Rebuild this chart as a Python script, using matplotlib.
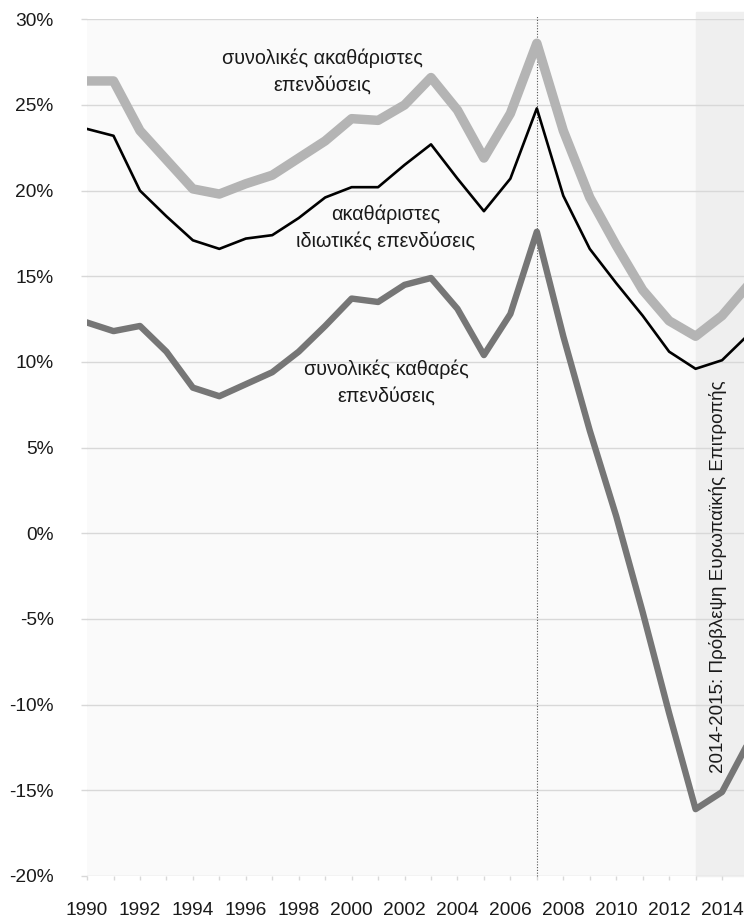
import numpy as np
import matplotlib.pyplot as plt
from matplotlib.ticker import FixedLocator, FuncFormatter

plt.rcParams['font.family'] = ['Liberation Sans', 'DejaVu Sans']

years = list(range(1990, 2016))

# συνολικές ακαθάριστες επενδύσεις (% ΑΕΠ)
gross_total = [26.4, 26.4, 23.5, 21.8, 20.1, 19.8, 20.4, 20.9, 21.9, 22.9,
               24.2, 24.1, 25.0, 26.6, 24.7, 21.9, 24.5, 28.6, 23.5, 19.6,
               16.8, 14.2, 12.4, 11.5, 12.7, 14.5]
# ακαθάριστες ιδιωτικές επενδύσεις
gross_private = [23.6, 23.2, 20.0, 18.5, 17.1, 16.6, 17.2, 17.4, 18.4, 19.6,
                 20.2, 20.2, 21.5, 22.7, 20.7, 18.8, 20.7, 24.8, 19.7, 16.6,
                 14.6, 12.7, 10.6, 9.6, 10.1, 11.6]
# συνολικές καθαρές επενδύσεις
net_total = [12.3, 11.8, 12.1, 10.6, 8.5, 8.0, 8.7, 9.4, 10.6, 12.1,
             13.7, 13.5, 14.5, 14.9, 13.1, 10.4, 12.8, 17.6, 11.5, 6.0,
             1.0, -4.6, -10.5, -16.1, -15.1, -12.2]

yticks = [-20, -15, -10, -5, 0, 5, 10, 15, 20, 25, 30]

fig = plt.figure(figsize=(7.44, 9.18), dpi=100)
ax = fig.add_axes([0.117, 0.0458, 0.883, 0.9332])
ax.set_facecolor('#fafafa')

span = ax.axvspan(2013, 2016, ymin=0, ymax=1.009, color='#efefef', zorder=0)
span.set_clip_on(False)
for y in yticks:
    ax.axhline(y, color='#d8d8d8', lw=1.0, zorder=1)
ax.axvline(2007, ymin=0, ymax=1.005, color='#555555', lw=0.8, ls=(0, (1, 1.5)),
           clip_on=False, zorder=2)

ax.plot(years, gross_total, color='#b4b4b4', lw=6.8, zorder=3)
ax.plot(years, gross_private, color='#000000', lw=1.9, zorder=4)
ax.plot(years, net_total, color='#767676', lw=4.6, zorder=3)

ax.set_xlim(1990, 2014.83)
ax.set_ylim(-20, 30)

ax.xaxis.set_major_locator(FixedLocator(years))
ax.xaxis.set_major_formatter(FuncFormatter(lambda v, p: str(int(v)) if int(v) % 2 == 0 else ''))
ax.yaxis.set_major_locator(FixedLocator(yticks))
ax.yaxis.set_major_formatter(FuncFormatter(lambda v, p: '%d%%' % v))
ax.tick_params(axis='x', length=3, width=1, color='#d8d8d8', pad=16, labelsize=13.8,
               labelcolor='#1a1a1a')
ax.tick_params(axis='y', length=4, width=1, color='#d8d8d8', pad=20, labelsize=13.8,
               labelcolor='#1a1a1a')
for s in ax.spines.values():
    s.set_visible(False)

txt = dict(fontsize=14.2, color='#1a1a1a', ha='center', va='center', linespacing=1.5)
ax.text(1998.9, 26.95, 'συνολικές ακαθάριστες\nεπενδύσεις', **txt)
ax.text(2001.3, 17.85, 'ακαθάριστες\nιδιωτικές επενδύσεις', **txt)
ax.text(2001.3, 8.8, 'συνολικές καθαρές\nεπενδύσεις', **txt)
ax.text(2013.85, -2.55, '2014-2015: Πρόβλεψη Ευρωπαϊκής Επιτροπής', rotation=90,
        fontsize=13.5, color='#1a1a1a', ha='center', va='center')

fig.savefig('out.png', dpi=100)
